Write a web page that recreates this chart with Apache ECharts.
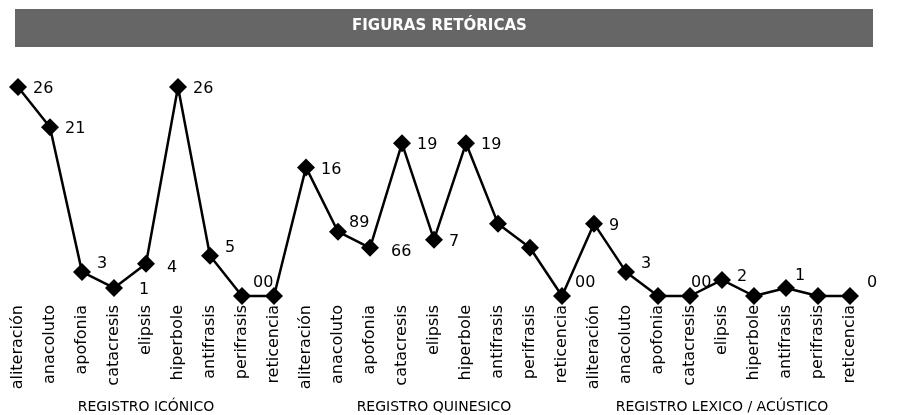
<!DOCTYPE html>
<html style="height: 100%">
<head>
<meta charset="utf-8">
<script src="https://cdn.jsdelivr.net/npm/echarts@6/dist/echarts.min.js"></script>
</head>
<body style="height: 100%; margin: 0">
<div id="container" style="width: 907px; height: 415px"></div>
<script type="text/javascript">
var figuras = ['aliteración', 'anacoluto', 'apofonia', 'catacresis', 'elipsis', 'hiperbole', 'antifrasis', 'perifrasis', 'reticencia'];
var registros = ['REGISTRO ICÓNICO', 'REGISTRO QUINESICO', 'REGISTRO LEXICO / ACÚSTICO'];
var iconico = [26, 21, 3, 1, 4, 26, 5, 0, 0];
var quinesico = [16, 8, 6, 19, 7, 19, 9, 6, 0];
var lexico = [9, 3, 0, 0, 2, 0, 1, 0, 0];
// etiquetas tal como aparecen en el grafico original
var etiquetas = ['26', '21', '3', '1', '4', '26', '5', '00', '',
                 '16', '89', '66', '19', '7', '19', '', '', '00',
                 '9', '3', '', '00', '2', '', '1', '', '0'];

var categorias = figuras.concat(figuras, figuras);
var valores = iconico.concat(quinesico, lexico);

// desplazamiento de cada etiqueta [dx, dy]
var ajuste = {
  2: [0, -8], 3: [10, 2], 4: [6, 4], 6: [0, -8], 7: [-4, -13],
  10: [-4, -9], 11: [6, 4], 17: [-2, -13], 19: [0, -8],
  21: [-14, -13], 22: [0, -3], 24: [-6, -12], 26: [2, -13]
};

var puntos = valores.map(function (v, i) {
  var off = ajuste[i] || [0, 2];
  return {
    value: v,
    label: { show: etiquetas[i] !== '', formatter: etiquetas[i], offset: off }
  };
});

var dom = document.getElementById('container');
var myChart = echarts.init(dom);
var option = {
  animation: false,
  backgroundColor: '#fff',
  textStyle: { fontFamily: 'DejaVu Sans' },
  graphic: [{
    type: 'rect', left: 15, top: 9,
    shape: { width: 858, height: 38 },
    style: { fill: '#666666' }
  }, {
    type: 'text', left: 352, top: 19,
    style: { text: 'FIGURAS RETÓRICAS', fill: '#fff', font: 'bold 15px "DejaVu Sans"' }
  }],
  grid: { left: 2, right: 41, top: 87, bottom: 119 },
  xAxis: [{
    type: 'category',
    data: categorias,
    boundaryGap: true,
    axisLine: { show: false },
    axisTick: { show: false },
    axisLabel: { rotate: 90, interval: 0, margin: 9, color: '#000', fontSize: 16 }
  }, {
    type: 'category',
    data: registros,
    position: 'bottom',
    offset: 100,
    axisLine: { show: false },
    axisTick: { show: false },
    axisLabel: { interval: 0, margin: 4, color: '#000', fontSize: 14 }
  }],
  yAxis: {
    type: 'value', min: 0, max: 26,
    show: false,
    splitLine: { show: false }
  },
  series: [{
    type: 'line',
    data: puntos,
    clip: false,
    symbol: 'diamond',
    symbolSize: 18,
    itemStyle: { color: '#000' },
    lineStyle: { color: '#000', width: 2.5 },
    label: { position: 'right', distance: 6, color: '#000', fontSize: 16 }
  }]
};
myChart.setOption(option);
</script>
</body>
</html>
